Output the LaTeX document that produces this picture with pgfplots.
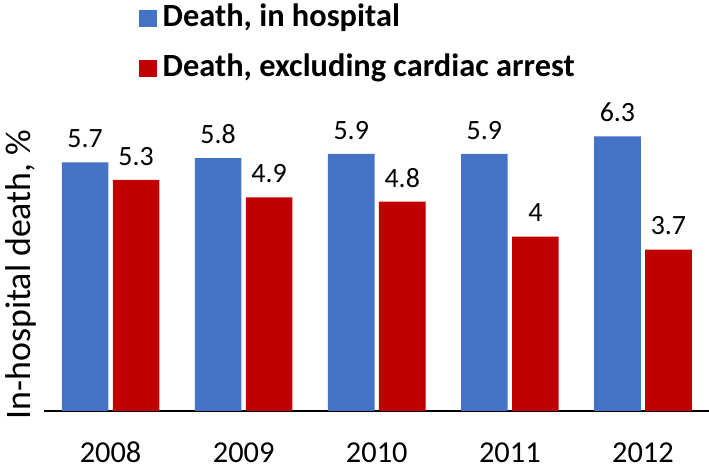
\documentclass[border=0pt]{standalone}
\usepackage{fontspec}
\setmainfont{Carlito}
\usepackage{pgfplots}
\pgfplotsset{compat=1.18}
\definecolor{cblue}{HTML}{4472C4}
\definecolor{cred}{HTML}{C00000}
\begin{document}
\begin{tikzpicture}
\begin{axis}[
  at={(44bp,61bp)}, anchor=south west,
  scale only axis, width=665.5bp, height=392.4bp,
  xmin=-0.5, xmax=4.5, ymin=0, ymax=9,
  ybar=4.4bp, bar width=46.6bp,
  axis x line=bottom, axis y line=left,
  x axis line style={-, line width=1.2bp, black},
  y axis line style={draw=none},
  ytick=\empty,
  xtick=data, xticklabels={2008,2009,2010,2011,2012},
  major tick length=0pt,
  /pgf/number format/assume math mode=true,
  xticklabel style={font=\fontsize{30.5}{30.5}\selectfont, anchor=base, inner sep=0pt, yshift=-51bp},
  every axis y label/.style={at={(axis description cs:-0.021,0.348)}, rotate=90, anchor=base, font=\fontsize{36}{36}\selectfont, inner sep=0pt},
  ylabel={In-hospital death, \%},
  nodes near coords,
  every node near coord/.append style={font=\fontsize{28}{28}\selectfont, anchor=base, inner sep=0pt, yshift=14.7bp, black},
  legend style={at={(axis description cs:0.1428,1.043)}, anchor=north west, draw=none, fill=none, inner sep=0pt,
    font=\fontsize{32.5}{32.5}\selectfont\bfseries, row sep=18bp,
    nodes={inner xsep=6bp, inner ysep=0pt, text height=25bp, text depth=7bp}},
  legend cell align=left,
  legend image code/.code={\fill[#1] (0bp,-9bp) rectangle (17.4bp,8.4bp);},
]
\addplot[fill=cblue, draw=none] coordinates {(0,5.7) (1,5.8) (2,5.9) (3,5.9) (4,6.3)};
\addplot[fill=cred, draw=none] coordinates {(0,5.3) (1,4.9) (2,4.8) (3,4) (4,3.7)};
\legend{{Death, in hospital}, {Death, excluding cardiac arrest}}
\end{axis}
\pgfresetboundingbox
\useasboundingbox (0,0) rectangle (709bp,472bp);
\end{tikzpicture}
\end{document}
